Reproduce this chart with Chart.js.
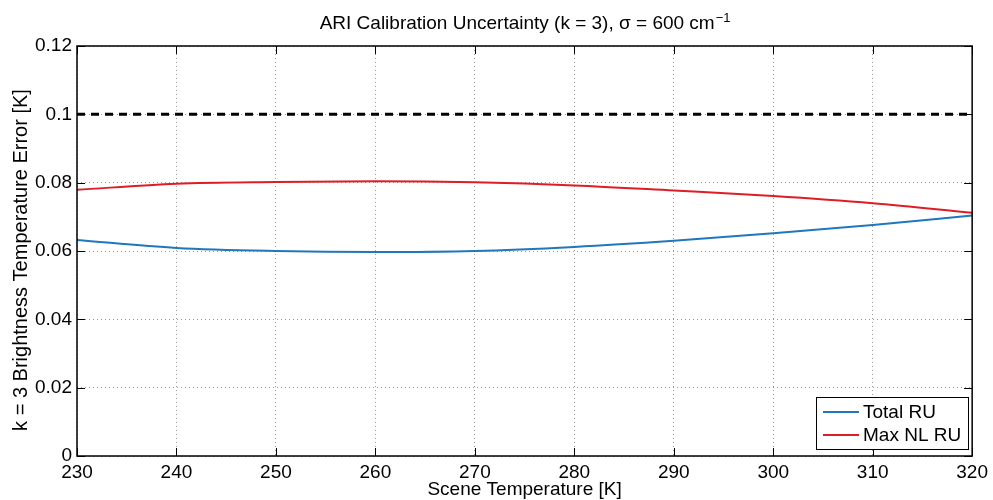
<!DOCTYPE html>
<html>
<head>
<meta charset="utf-8">
<script src="https://cdn.jsdelivr.net/npm/chart.js@4"></script>
<style>
  html, body { margin: 0; padding: 0; background: #fff; }
  #wrap { width: 993px; height: 500px; }
</style>
</head>
<body>
<div id="wrap"><canvas id="myChart" width="993" height="500"></canvas></div>
<script>
// Scene temperatures [K]
const temps = [230, 240, 250, 260, 270, 280, 290, 300, 310, 320];
// k = 3 brightness temperature errors [K]
const totalRU = [0.0632, 0.0609, 0.0600, 0.0597, 0.0600, 0.0612, 0.0630, 0.0652, 0.0676, 0.0704];
const maxNLRU = [0.0779, 0.0797, 0.0802, 0.0804, 0.0801, 0.0792, 0.0777, 0.0761, 0.0740, 0.0712];
const limitX = [230, 320];
const limitY = [0.1, 0.1];
const xTicks = [230, 240, 250, 260, 270, 280, 290, 300, 310, 320];
const yTicks = [0, 0.02, 0.04, 0.06, 0.08, 0.1, 0.12];

const FONT = "'Liberation Sans', Arial, Helvetica, sans-serif";

const toPts = (xs, ys) => xs.map((x, i) => ({ x: x, y: ys[i] }));

// box, inward ticks, titles and legend in matlab style
const matlabPlugin = {
  id: "matlab",
  afterDraw(chart) {
    const ctx = chart.ctx;
    const a = chart.chartArea;
    const xs = chart.scales.x, ys = chart.scales.y;
    ctx.save();
    ctx.strokeStyle = "#000";
    ctx.lineWidth = 1;
    ctx.beginPath();
    xTicks.forEach((t) => {
      const px = Math.round(xs.getPixelForValue(t)) + 0.5;
      ctx.moveTo(px, a.bottom); ctx.lineTo(px, a.bottom - 8);
      ctx.moveTo(px, a.top); ctx.lineTo(px, a.top + 8);
    });
    yTicks.forEach((t) => {
      const py = Math.round(ys.getPixelForValue(t)) + 0.5;
      ctx.moveTo(a.left, py); ctx.lineTo(a.left + 8, py);
      ctx.moveTo(a.right, py); ctx.lineTo(a.right - 8, py);
    });
    ctx.stroke();
    ctx.lineWidth = 1.5;
    ctx.strokeRect(a.left, a.top, a.right - a.left, a.bottom - a.top);

    // title with superscript
    ctx.fillStyle = "#000";
    ctx.textBaseline = "alphabetic";
    ctx.font = "19px " + FONT;
    const main = "ARI Calibration Uncertainty (k = 3), \u03c3 = 600 cm";
    const sup = "\u22121";
    const w1 = ctx.measureText(main).width;
    ctx.font = "13px " + FONT;
    const w2 = ctx.measureText(sup).width;
    const x0 = (a.left + a.right) / 2 - (w1 + w2) / 2;
    ctx.font = "19px " + FONT;
    ctx.textAlign = "left";
    ctx.fillText(main, x0, 29);
    ctx.font = "13px " + FONT;
    ctx.fillText(sup, x0 + w1 + 1, 22);

    // axis titles
    ctx.font = "19px " + FONT;
    ctx.textAlign = "center";
    ctx.fillText("Scene Temperature [K]", (a.left + a.right) / 2, 495);
    ctx.save();
    ctx.translate(27, 260);
    ctx.rotate(-Math.PI / 2);
    ctx.font = "20px " + FONT;
    ctx.fillText("k = 3 Brightness Temperature Error [K]", 0, 0);
    ctx.restore();

    // legend
    const lx = 816, ly = 397, lw = 152, lh = 52;
    ctx.fillStyle = "#fff";
    ctx.fillRect(lx, ly, lw, lh);
    ctx.strokeStyle = "#000";
    ctx.lineWidth = 1;
    ctx.strokeRect(lx + 0.5, ly + 0.5, lw, lh);
    const items = chart.data.datasets.filter((d) => d.label);
    ctx.font = "19px " + FONT;
    ctx.textAlign = "left";
    ctx.textBaseline = "middle";
    items.forEach((d, i) => {
      const yy = ly + 15 + i * 23;
      ctx.strokeStyle = d.borderColor;
      ctx.lineWidth = 2;
      ctx.beginPath();
      ctx.moveTo(lx + 7, yy); ctx.lineTo(lx + 43, yy);
      ctx.stroke();
      ctx.fillStyle = "#000";
      ctx.fillText(d.label, lx + 47, yy + 1);
    });
    ctx.restore();
  },
};

const ctx = document.getElementById("myChart").getContext("2d");
const myChart = new Chart(ctx, {
  type: "line",
  data: {
    datasets: [
      {
        label: "Total RU",
        data: toPts(temps, totalRU),
        borderColor: "rgb(31,119,189)",
        borderWidth: 2,
        pointRadius: 0,
        cubicInterpolationMode: "monotone",
      },
      {
        label: "Max NL RU",
        data: toPts(temps, maxNLRU),
        borderColor: "rgb(221,30,38)",
        borderWidth: 2,
        pointRadius: 0,
        cubicInterpolationMode: "monotone",
      },
      {
        label: "",
        data: toPts(limitX, limitY),
        borderColor: "#000",
        borderWidth: 3,
        borderDash: [8, 6],
        pointRadius: 0,
      },
    ],
  },
  options: {
    responsive: false,
    animation: false,
    layout: { padding: { top: 46, right: 19, left: 0, bottom: 0 } },
    plugins: { legend: { display: false }, tooltip: { enabled: false } },
    scales: {
      x: {
        type: "linear",
        min: 230,
        max: 320,
        afterBuildTicks: (s) => { s.ticks = xTicks.map((v) => ({ value: v })); },
        afterFit: (s) => { s.height = 44; },
        grid: { color: "rgba(0,0,0,0.4)", drawTicks: false, lineWidth: 1 },
        border: { display: false, dash: [1, 3] },
        ticks: { color: "#000", font: { family: FONT, size: 19 }, padding: 5, maxRotation: 0 },
      },
      y: {
        min: 0,
        max: 0.12,
        afterBuildTicks: (s) => { s.ticks = yTicks.map((v) => ({ value: v })); },
        afterFit: (s) => { s.width = 77; },
        grid: { color: "rgba(0,0,0,0.4)", drawTicks: false, lineWidth: 1 },
        border: { display: false, dash: [1, 3] },
        ticks: {
          color: "#000",
          font: { family: FONT, size: 19 },
          padding: 5,
          callback: (v) => String(Math.round(v * 100) / 100),
        },
      },
    },
  },
  plugins: [matlabPlugin],
});
</script>
</body>
</html>
